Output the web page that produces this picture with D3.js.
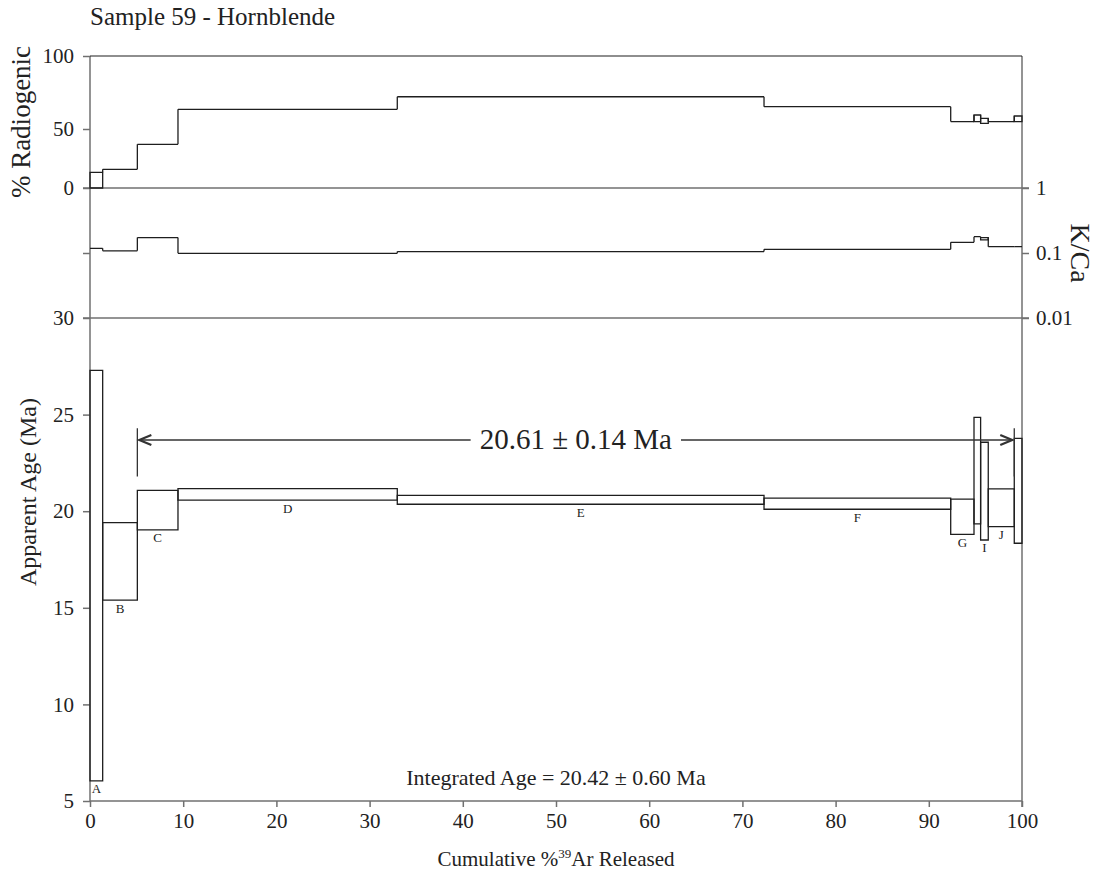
<!DOCTYPE html>
<html>
<head>
<meta charset="utf-8">
<script src="https://cdn.jsdelivr.net/npm/d3@7"></script>
<style>
  body { margin: 0; background: #fff; }
  text { font-family: "Liberation Serif", "Times New Roman", serif; fill: #222; }
</style>
</head>
<body>
<script>
// step heating data, one entry per step
const stepLabels = ["A", "B", "C", "D", "E", "F", "G", "", "I", "J", ""];
const cumTop = [1.36, 5.08, 9.44, 32.97, 72.32, 92.35, 94.85, 95.56, 96.38, 99.17, 100];
const ageHi = [27.29, 19.41, 21.08, 21.17, 20.82, 20.68, 20.63, 24.86, 23.57, 21.16, 23.77];
const ageLo = [6.04, 15.40, 19.03, 20.57, 20.36, 20.10, 18.80, 19.34, 18.51, 19.20, 18.34];
const radHi = [13.3, 15.8, 37.0, 63.5, 72.1, 65.3, 55.1, 59.6, 57.3, 55.0, 58.9];
const radLo = [0, 15.8, 37.0, 63.5, 72.1, 65.3, 55.1, 55.0, 53.9, 55.0, 55.0];
const kcaHi = [0.118, 0.108, 0.173, 0.099, 0.105, 0.114, 0.146, 0.178, 0.172, 0.125, 0.125];
const kcaLo = [0.118, 0.108, 0.173, 0.099, 0.105, 0.114, 0.146, 0.178, 0.159, 0.125, 0.125];

const xTicks = [0, 10, 20, 30, 40, 50, 60, 70, 80, 90, 100];
const radTicks = [0, 50, 100];
const kcaTicks = [1, 0.1, 0.01];
const ageTicks = [5, 10, 15, 20, 25, 30];

const plateauFirst = 2, plateauLast = 9;   // steps C..J
const plateauText = "20.61 ± 0.14 Ma";
const plateauArrowAge = 23.69, plateauBarTop = 24.29, plateauBarBottom = 21.79;
const integratedText = "Integrated Age = 20.42 ± 0.60 Ma";

const W = 1102, H = 874;
const axisCol = "#707070", lineCol = "#1e1e1e";

const svg = d3.select("body").append("svg")
  .attr("width", W).attr("height", H);

const x = d3.scaleLinear().domain([0, 100]).range([90, 1022]);
const yRad = d3.scaleLinear().domain([0, 50, 100]).range([188, 129, 56]);
const yKca = d3.scaleLog().domain([0.01, 1]).range([318, 188]);
const yAge = d3.scaleLinear().domain([5, 30]).range([801, 318]);

const steps = cumTop.map((c, i) => ({
  x0: i === 0 ? 0 : cumTop[i - 1], x1: c, label: stepLabels[i],
  ageHi: ageHi[i], ageLo: ageLo[i],
  radHi: radHi[i], radLo: radLo[i],
  kcaHi: kcaHi[i], kcaLo: kcaLo[i]
}));

// frame
const xLeft = x.range()[0], xRight = x.range()[1];
const yTop = yRad(100), yBottom = yAge(5);
const frame = svg.append("g").attr("stroke", axisCol).attr("stroke-width", 1.5).attr("fill", "none");
frame.append("line").attr("x1", xLeft).attr("x2", xLeft).attr("y1", yTop).attr("y2", yBottom);
frame.append("line").attr("x1", xRight).attr("x2", xRight).attr("y1", yTop).attr("y2", yBottom + 6);
frame.append("line").attr("x1", xLeft).attr("x2", xRight).attr("y1", yTop).attr("y2", yTop).attr("stroke", lineCol).attr("stroke-width", 1.2);
frame.append("line").attr("x1", xLeft - 7).attr("x2", xRight + 7).attr("y1", yKca(1)).attr("y2", yKca(1));
frame.append("line").attr("x1", xLeft - 7).attr("x2", xRight + 7).attr("y1", yKca(0.01)).attr("y2", yKca(0.01));
frame.append("line").attr("x1", xLeft).attr("x2", xRight).attr("y1", yBottom).attr("y2", yBottom);

function styleAxis(g) {
  g.select(".domain").remove();
  g.selectAll(".tick line").attr("stroke", axisCol).attr("stroke-width", 1.5);
  g.selectAll(".tick text").attr("fill", "#222")
    .style("font-family", "'Liberation Serif', serif").style("font-size", "21px");
}

svg.append("g").attr("transform", `translate(${xLeft},0)`)
  .call(d3.axisLeft(yRad).tickValues(radTicks).tickSize(7).tickPadding(9))
  .call(styleAxis);

svg.append("g").attr("transform", `translate(${xLeft},0)`)
  .call(d3.axisLeft(yKca).tickValues([0.1]).tickFormat("").tickSize(7))
  .call(styleAxis);

svg.append("g").attr("transform", `translate(${xRight},0)`)
  .call(d3.axisRight(yKca).tickValues(kcaTicks).tickFormat(d => String(d)).tickSize(7).tickPadding(7))
  .call(styleAxis);

svg.append("g").attr("transform", `translate(${xLeft},0)`)
  .call(d3.axisLeft(yAge).tickValues(ageTicks).tickSize(7).tickPadding(9))
  .call(styleAxis);

svg.append("g").attr("transform", `translate(0,${yBottom})`)
  .call(d3.axisBottom(x).tickValues(xTicks).tickSize(6).tickPadding(6))
  .call(styleAxis);

// step panels: a box per step (hi..lo) plus connectors between steps
function stepPanel(y, hiKey, loKey) {
  const g = svg.append("g").attr("fill", "none").attr("stroke", lineCol).attr("stroke-width", 1.3);
  g.selectAll("path.box").data(steps).join("path")
    .attr("class", "box")
    .attr("d", d => `M${x(d.x0)},${y(d[hiKey])}H${x(d.x1)}V${y(d[loKey])}H${x(d.x0)}Z`);
  g.selectAll("path.conn").data(steps.slice(0, -1)).join("path")
    .attr("class", "conn")
    .attr("d", (d, i) => `M${x(d.x1)},${y(d[hiKey])}V${y(steps[i + 1][hiKey])}`);
}
stepPanel(yRad, "radHi", "radLo");
stepPanel(yKca, "kcaHi", "kcaLo");

// age spectrum
const ageG = svg.append("g");
ageG.selectAll("path").data(steps).join("path")
  .attr("fill", "none").attr("stroke", lineCol).attr("stroke-width", 1.3)
  .attr("d", d => `M${x(d.x0)},${yAge(d.ageHi)}H${x(d.x1)}V${yAge(d.ageLo)}H${x(d.x0)}Z`);
ageG.selectAll("text").data(steps).join("text")
  .attr("x", d => (x(d.x0) + x(d.x1)) / 2)
  .attr("y", d => yAge(d.ageLo) + 12.5)
  .attr("text-anchor", "middle")
  .style("font-size", "13px")
  .text(d => d.label);

// plateau
const px0 = x(steps[plateauFirst].x0), px1 = x(steps[plateauLast].x1);
const ay = yAge(plateauArrowAge);
const pl = svg.append("g").attr("stroke", "#333").attr("fill", "none");
[px0, px1].forEach(px => {
  pl.append("line").attr("x1", px).attr("x2", px)
    .attr("y1", yAge(plateauBarTop)).attr("y2", yAge(plateauBarBottom)).attr("stroke-width", 1.3);
});
const cx = (px0 + px1) / 2;
const ptext = svg.append("text")
  .attr("x", cx).attr("y", ay + 9.5)
  .attr("text-anchor", "middle")
  .style("font-size", "29px")
  .text(plateauText);
const tw = ptext.node().getComputedTextLength();
pl.append("line").attr("x1", px0 + 2).attr("x2", cx - tw / 2 - 9).attr("y1", ay).attr("y2", ay).attr("stroke-width", 1.5);
pl.append("line").attr("x1", cx + tw / 2 + 9).attr("x2", px1 - 2).attr("y1", ay).attr("y2", ay).attr("stroke-width", 1.5);
pl.append("path").attr("stroke-width", 2.2)
  .attr("d", `M${px0 + 14},${ay - 5}L${px0 + 2},${ay}L${px0 + 14},${ay + 5}`);
pl.append("path").attr("stroke-width", 2.2)
  .attr("d", `M${px1 - 14},${ay - 5}L${px1 - 2},${ay}L${px1 - 14},${ay + 5}`);

svg.append("text")
  .attr("x", (xLeft + xRight) / 2).attr("y", 785)
  .attr("text-anchor", "middle")
  .style("font-size", "22px")
  .text(integratedText);

// titles
svg.append("text").attr("x", 90).attr("y", 25)
  .style("font-size", "25px").text("Sample 59 - Hornblende");

svg.append("text")
  .attr("transform", "translate(30,122) rotate(-90)")
  .attr("text-anchor", "middle")
  .style("font-size", "27px")
  .text("% Radiogenic");

svg.append("text")
  .attr("transform", "translate(1071,253) rotate(90)")
  .attr("text-anchor", "middle")
  .style("font-size", "28px")
  .text("K/Ca");

svg.append("text")
  .attr("transform", "translate(36,492) rotate(-90)")
  .attr("text-anchor", "middle")
  .style("font-size", "24px")
  .text("Apparent Age (Ma)");

const xl = svg.append("text")
  .attr("x", (xLeft + xRight) / 2).attr("y", 866)
  .attr("text-anchor", "middle")
  .style("font-size", "21px");
xl.append("tspan").text("Cumulative %");
xl.append("tspan").attr("dy", -8).style("font-size", "13px").text("39");
xl.append("tspan").attr("dy", 8).text("Ar Released");
</script>
</body>
</html>
